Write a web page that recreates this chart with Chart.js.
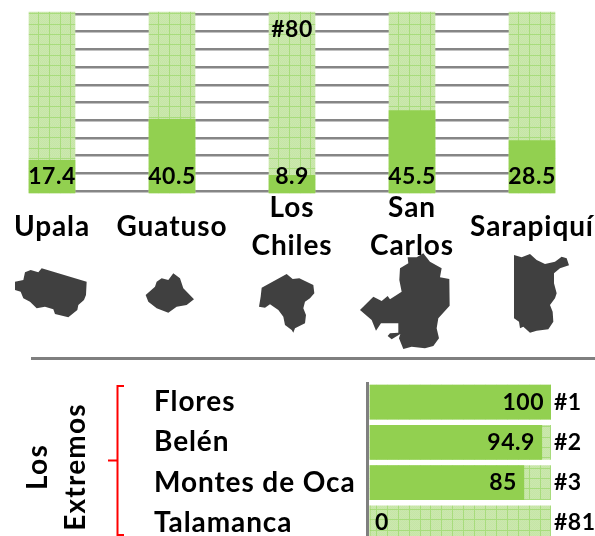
<!DOCTYPE html>
<html lang="es">
<head>
<meta charset="utf-8">
<title>Cantones: puntajes y extremos</title>
<script src="https://cdn.jsdelivr.net/npm/chart.js@4/dist/chart.umd.min.js"></script>
<style>
  html, body { margin: 0; padding: 0; background: #fff; width: 595px; height: 536px; overflow: hidden; }
  #stage { position: relative; width: 595px; height: 536px; overflow: hidden; }
  #stage canvas, #stage svg { position: absolute; }
  #cantons { left: 0; top: 0; }
  #extremes { left: 0; top: 382px; }
  #decor { left: 0; top: 0; }
  #decor text { font: 700 28px Lato, sans-serif; letter-spacing: 1.2px; fill: #000; text-anchor: middle; }
</style>
</head>
<body>
<div id="stage">
  <canvas id="cantons" width="595" height="270"></canvas>
  <canvas id="extremes" width="595" height="161"></canvas>
  <svg id="decor" width="595" height="536" viewBox="0 0 595 536">
    <!-- canton outlines -->
    <g fill="#404040">
      <path transform="translate(0 240) scale(.3333)" d="M125 85L260 125L258 165L252 180L235 195L232 210L205 232L165 222L160 208L135 200L110 205L90 185L70 175L62 155L45 150L45 125L70 120L75 97L92 90L115 97Z"/>
      <path transform="translate(0 240) scale(.3333)" d="M520 100L540 115L550 145L582 178L560 195L530 200L505 218L470 205L445 185L437 165L465 140L470 125L485 115L505 120Z"/>
      <path transform="translate(250 265) scale(.3333)" d="M110 27L128 42L148 40L165 48L190 60L193 85L180 100L165 110L160 130L168 150L165 175L135 190L130 203L125 195L105 180L100 155L85 135L60 118L45 128L27 125L32 95L35 68Z"/>
      <path transform="translate(295 240) scale(.3333)" d="M385 40L405 65L440 85L435 112L463 117L464 197L430 235L425 265L432 295L415 318L390 325L350 320L325 327L312 295L316 282L290 298L278 288L285 280L310 278L310 250L258 250L243 272L230 240L195 210L235 170L260 183L278 168L285 178L320 155L313 120L315 85L340 70L338 52L365 52Z"/>
      <path transform="translate(505 250) scale(.3333)" d="M27 15L50 22L75 12L95 30L120 42L150 35L170 20L185 25L192 46L165 55L147 70L147 100L155 130L150 145L135 165L143 185L145 215L130 238L95 242L75 248L55 230L45 235L42 215L27 205Z"/>
    </g>
    <!-- divider between the two panels -->
    <rect x="31" y="357" width="564" height="3" fill="#7f7f7f"/>
    <!-- bracket around the extreme cantons -->
    <path d="M124 386H117.5V535H124M117.5 460.5H108" fill="none" stroke="#ff0000" stroke-width="2"/>
    <text transform="translate(47 467) rotate(-90)">Los</text>
    <text transform="translate(85 467) rotate(-90)">Extremos</text>
  </svg>
</div>
<script>
// Top panel: canton scores and ranks
const cantonNames = ["Upala", "Guatuso", ["Los", "Chiles"], ["San", "Carlos"], "Sarapiquí"];
const cantonScores = [17.4, 40.5, 8.9, 45.5, 28.5];
const cantonRanks = ["", "", "#80", "", ""];

// Bottom panel: highest and lowest scoring cantons
const extremeNames = ["Flores", "Belén", "Montes de Oca", "Talamanca"];
const extremeScores = [100, 94.9, 85, 0];
const extremeRanks = ["#1", "#2", "#3", "#81"];

const scoreMax = 100;
const axisFloor = -1.1;
const axisCeil = 101.1;

const FILL = "#92d050";
const LABEL_FONT = "700 23px Lato, sans-serif";
const NAME_FONT = { family: "Lato, sans-serif", size: 28, weight: "700", lineHeight: 1.36 };

// Pale green track: fine checker with a thin grid over it
function trackPattern() {
  const tile = document.createElement("canvas");
  tile.width = 120;
  tile.height = 31;
  const c = tile.getContext("2d");
  for (let y = 0; y < tile.height; y++) {
    for (let x = 0; x < tile.width; x++) {
      c.fillStyle = (x + y) % 2 ? "#cbe8ae" : "#c6e5a6";
      c.fillRect(x, y, 1, 1);
    }
  }
  c.fillStyle = "#a8dc7c";
  for (let i = 0; i < 11; i++) c.fillRect(Math.round(5 + i * 120 / 11), 0, 1, 31);
  for (let j = 0; j < 3; j++) c.fillRect(0, Math.round(3 + j * 31 / 3), 120, 1);
  return document.createElement("canvas").getContext("2d").createPattern(tile, "repeat");
}
const track = trackPattern();

function drawText(ctx, text, x, y, align) {
  ctx.save();
  ctx.font = LABEL_FONT;
  ctx.letterSpacing = "0.5px";
  ctx.fillStyle = "#000";
  ctx.textAlign = align;
  ctx.textBaseline = "middle";
  ctx.fillText(text, x, y);
  ctx.restore();
}

// Wider tracking for the canton names drawn by the axes
const nameTracking = {
  id: "nameTracking",
  beforeDraw(chart) { chart.ctx.letterSpacing = "0.9px"; }
};

// Score at the foot of each column, rank near the top where one is shown
const columnLabels = {
  id: "columnLabels",
  afterDatasetsDraw(chart) {
    const bars = chart.getDatasetMeta(1).data;
    const area = chart.chartArea;
    bars.forEach((bar, i) => {
      drawText(chart.ctx, String(cantonScores[i]), bar.x, area.bottom - 16, "center");
      if (cantonRanks[i]) drawText(chart.ctx, cantonRanks[i], bar.x, area.top + 18, "center");
    });
  }
};

// Score inside each row, rank just past the end of the track, plus the axis rule
const rowLabels = {
  id: "rowLabels",
  afterDatasetsDraw(chart) {
    const { ctx, chartArea: area } = chart;
    const bars = chart.getDatasetMeta(1).data;
    ctx.save();
    ctx.fillStyle = "#7f7f7f";
    ctx.fillRect(area.left - 1, area.top - 2, 3, area.bottom - area.top + 2);
    ctx.restore();
    bars.forEach((bar, i) => {
      const v = extremeScores[i];
      if (v > 0) drawText(ctx, String(v), bar.x - 7, bar.y, "right");
      else drawText(ctx, String(v), bar.x + 5, bar.y, "left");
      drawText(ctx, extremeRanks[i], area.right + 3, bar.y, "left");
    });
  }
};

new Chart(document.getElementById("cantons"), {
  type: "bar",
  data: {
    labels: cantonNames,
    datasets: [
      { data: cantonNames.map(() => axisCeil), base: axisFloor, backgroundColor: track, order: 2, clip: false },
      { data: cantonScores, base: axisFloor, backgroundColor: FILL, order: 1, clip: false }
    ]
  },
  options: {
    responsive: false,
    animation: false,
    layout: { padding: { left: 52, right: 63, top: 12, bottom: 0 } },
    plugins: { legend: { display: false }, tooltip: { enabled: false } },
    datasets: { bar: { barThickness: 46, grouped: false } },
    scales: {
      x: {
        offset: false,
        grid: { display: false, offset: false },
        border: { display: false },
        ticks: {
          autoSkip: false,
          maxRotation: 0,
          minRotation: 0,
          padding: 7,
          crossAlign: "center",
          color: "#000",
          font: NAME_FONT
        },
        afterFit(scale) {
          scale.height = 77;
          scale.paddingLeft = 0;
          scale.paddingRight = 0;
        }
      },
      y: {
        min: axisFloor,
        max: axisCeil,
        grid: { color: "#868686", lineWidth: 2.5, drawTicks: false },
        border: { display: false },
        ticks: { display: false, stepSize: 10, includeBounds: false },
        afterFit(scale) { scale.width = 0; }
      }
    }
  },
  plugins: [nameTracking, columnLabels]
});

new Chart(document.getElementById("extremes"), {
  type: "bar",
  data: {
    labels: extremeNames,
    datasets: [
      { data: extremeNames.map(() => scoreMax), backgroundColor: track, order: 2 },
      { data: extremeScores, backgroundColor: FILL, order: 1 }
    ]
  },
  options: {
    indexAxis: "y",
    responsive: false,
    animation: false,
    layout: { padding: { left: 154, right: 44, top: 0, bottom: 0 } },
    plugins: { legend: { display: false }, tooltip: { enabled: false } },
    datasets: { bar: { barThickness: 34, grouped: false } },
    scales: {
      x: { display: false, min: -1.66, max: scoreMax },
      y: {
        grid: { display: false },
        border: { display: false },
        ticks: {
          crossAlign: "far",
          padding: 0,
          autoSkip: false,
          color: "#000",
          font: NAME_FONT
        },
        afterFit(scale) {
          scale.width = 213;
          scale.paddingTop = 0;
          scale.paddingBottom = 0;
        }
      }
    }
  },
  plugins: [nameTracking, rowLabels]
});
</script>
</body>
</html>
